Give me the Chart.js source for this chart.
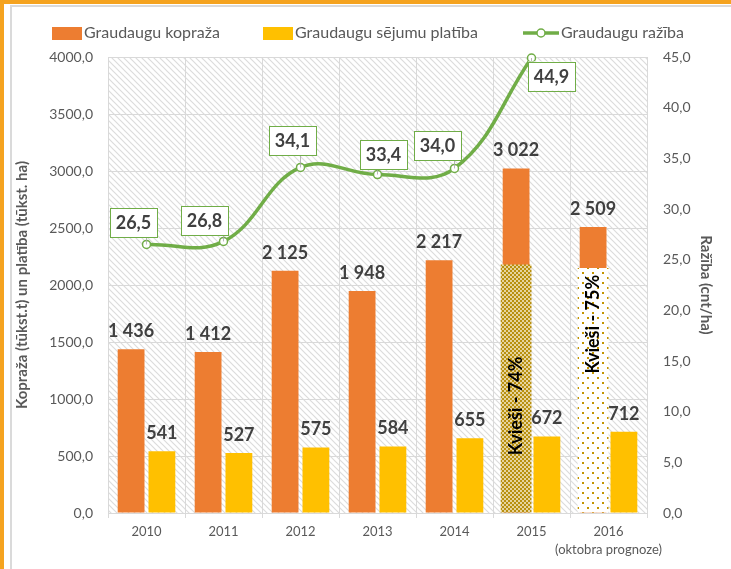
<!DOCTYPE html>
<html>
<head>
<meta charset="utf-8">
<script src="https://cdn.jsdelivr.net/npm/chart.js@4.4.0/dist/chart.umd.min.js"></script>
<style>
  html, body { margin: 0; padding: 0; background: #fff; }
  .edge { position: absolute; background: #F5A31F; }
  .inner { position: absolute; background: #DADADA; }
  #wrap { position: absolute; left: 0; top: 0; width: 731px; height: 569px; }
</style>
</head>
<body>
<div class="edge" style="left:0;top:0;width:4px;height:569px"></div>
<div class="edge" style="left:0;top:0;width:731px;height:4px"></div>
<div class="inner" style="left:10px;top:5px;width:2px;height:564px"></div>
<div class="inner" style="left:10px;top:5px;width:721px;height:2px"></div>
<div id="wrap"><canvas id="myChart" width="731" height="569"></canvas></div>
<script>
// data
var years = ['2010', '2011', '2012', '2013', '2014', '2015', ['2016', '(oktobra prognoze)']];
var kopraza = [1436, 1412, 2125, 1948, 2217, 3022, 2509];
var platiba = [541, 527, 575, 584, 655, 672, 712];
var raziba = [26.5, 26.8, 34.1, 33.4, 34.0, 44.9, null];
var kviesi = [null, null, null, null, null, 2180, 2150];
var kviesiText = [null, null, null, null, null, 'Kvieši - 74%', 'Kvieši - 75%'];

// label placement (style only)
var razibaBoxShift = [[-13, -22], [-19, -21], [-8, -27], [6, -20], [-17, -23], [20, 18]];
var kviesiTextAt = [0, 0, 0, 0, 0, 0.43, 0.77];

var FONT = 'Lato';
var DARK = '#404040';
var GREY = '#595959';

var canvas = document.getElementById('myChart');
var ctx = canvas.getContext('2d');

function tile(w, h, draw) {
    var c = document.createElement('canvas');
    c.width = w; c.height = h;
    draw(c.getContext('2d'), w, h);
    return ctx.createPattern(c, 'repeat');
}

var hatch = tile(6, 6, function(g, s) {
    g.fillStyle = '#fff';
    g.fillRect(0, 0, s, s);
    g.strokeStyle = '#DCDCDC';
    g.lineWidth = 1.2;
    for (var k = -1; k <= 1; k++) {
        g.beginPath();
        g.moveTo(k * s - 1, -1);
        g.lineTo(k * s + s + 1, s + 1);
        g.stroke();
    }
});
var checker = tile(4, 4, function(g) {
    g.fillStyle = '#fff';
    g.fillRect(0, 0, 4, 4);
    g.fillStyle = '#B8900F';
    g.fillRect(0, 0, 2, 2);
    g.fillRect(2, 2, 2, 2);
    g.fillStyle = 'rgba(200,160,40,0.45)';
    g.fillRect(2, 0, 2, 2);
    g.fillRect(0, 2, 2, 2);
});
var dots = tile(10, 10, function(g) {
    g.fillStyle = '#fff';
    g.fillRect(0, 0, 10, 10);
    g.fillStyle = '#C39400';
    g.fillRect(2, 2, 2, 2);
    g.fillRect(7, 7, 2, 2);
});

function comma(v) { return Number(v).toFixed(1).replace('.', ','); }
function spaced(v) { return String(v).replace(/\B(?=(\d{3})+(?!\d))/g, ' '); }

var plotBg = {
    id: 'plotBg',
    beforeDraw: function(chart) {
        var a = chart.chartArea;
        chart.ctx.save();
        chart.ctx.fillStyle = hatch;
        chart.ctx.fillRect(a.left, a.top, a.right - a.left, a.bottom - a.top);
        chart.ctx.restore();
    }
};

var labels = {
    id: 'labels',
    afterDatasetsDraw: function(chart) {
        var c = chart.ctx;
        c.save();
        c.textAlign = 'center';
        c.textBaseline = 'middle';

        // value labels over the bars
        c.font = 'bold 18px ' + FONT;
        c.fillStyle = DARK;
        [2, 3].forEach(function(di) {
            var data = chart.data.datasets[di].data;
            chart.getDatasetMeta(di).data.forEach(function(el, i) {
                c.fillText(spaced(data[i]), el.x, el.y - 18);
            });
        });

        // wheat share, written upwards
        c.font = 'bold 18px ' + FONT;
        c.fillStyle = '#000';
        chart.getDatasetMeta(1).data.forEach(function(el, i) {
            if (!kviesiText[i]) return;
            var y = el.base - (el.base - el.y) * kviesiTextAt[i];
            c.save();
            c.translate(el.x, y);
            c.rotate(-Math.PI / 2);
            c.fillText(kviesiText[i], 0, 0);
            c.restore();
        });

        // yield labels in boxes
        c.font = 'bold 18px ' + FONT;
        chart.getDatasetMeta(0).data.forEach(function(el, i) {
            if (raziba[i] === null) return;
            var w = 47, h = 29;
            var cx = el.x + razibaBoxShift[i][0], cy = el.y + razibaBoxShift[i][1];
            var bx = cx - w / 2, by = cy - h / 2;
            var nx = Math.max(bx, Math.min(el.x, bx + w));
            var ny = Math.max(by, Math.min(el.y, by + h));
            c.strokeStyle = '#A6A6A6';
            c.lineWidth = 0.8;
            c.beginPath();
            c.moveTo(nx, ny);
            c.lineTo(el.x, el.y);
            c.stroke();
            c.fillStyle = '#fff';
            c.fillRect(bx, by, w, h);
            c.strokeStyle = '#70AD47';
            c.lineWidth = 1;
            c.strokeRect(Math.round(bx) + 0.5, Math.round(by) + 0.5, w, h);
            c.fillStyle = DARK;
            c.fillText(comma(raziba[i]), cx, cy + 1);
        });
        c.restore();
    },
    afterDraw: function(chart) {
        // legend row at the top
        var c = chart.ctx;
        c.save();
        c.font = '16px ' + FONT;
        c.textBaseline = 'middle';
        c.textAlign = 'left';
        var ly = 33;
        c.fillStyle = '#ED7D31';
        c.fillRect(52, 27, 30, 13);
        c.fillStyle = GREY;
        c.fillText('Graudaugu kopraža', 84, ly);
        c.fillStyle = '#FFC000';
        c.fillRect(263, 27, 30, 13);
        c.fillStyle = GREY;
        c.fillText('Graudaugu sējumu platība', 295, ly);
        c.strokeStyle = '#70AD47';
        c.lineWidth = 3.5;
        c.beginPath();
        c.moveTo(523, ly);
        c.lineTo(559, ly);
        c.stroke();
        c.beginPath();
        c.arc(541, ly, 4, 0, Math.PI * 2);
        c.fillStyle = '#fff';
        c.fill();
        c.lineWidth = 1.5;
        c.stroke();
        c.fillStyle = GREY;
        c.fillText('Graudaugu ražība', 561, ly);
        c.restore();
    }
};

var chart = new Chart(ctx, {
    type: 'bar',
    data: {
        labels: years,
        datasets: [{
            type: 'line',
            label: 'Graudaugu ražība',
            data: raziba,
            yAxisID: 'y1',
            order: 0,
            borderColor: '#70AD47',
            borderWidth: 3.5,
            tension: 0.4,
            pointRadius: 4,
            pointBackgroundColor: '#fff',
            pointBorderColor: '#70AD47',
            pointBorderWidth: 1.5,
            clip: false
        }, {
            label: 'Kvieši',
            data: kviesi,
            stack: 'k',
            order: 1,
            backgroundColor: [null, null, null, null, null, checker, dots],
            barPercentage: 1.0,
            categoryPercentage: 0.8
        }, {
            label: 'Graudaugu kopraža',
            data: kopraza,
            stack: 'k',
            order: 2,
            backgroundColor: '#ED7D31',
            barPercentage: 0.87,
            categoryPercentage: 0.8
        }, {
            label: 'Graudaugu sējumu platība',
            data: platiba,
            stack: 'p',
            order: 2,
            backgroundColor: '#FFC000',
            barPercentage: 0.87,
            categoryPercentage: 0.8
        }]
    },
    options: {
        responsive: false,
        animation: false,
        layout: { padding: { top: 57, left: 0, right: 0, bottom: 0 } },
        plugins: {
            legend: { display: false },
            title: { display: false },
            tooltip: { enabled: false }
        },
        scales: {
            x: {
                grid: { offset: true, color: '#D9D9D9', tickLength: 5, tickColor: '#D9D9D9' },
                border: { color: '#D9D9D9' },
                ticks: { color: GREY, font: { family: FONT, size: 13, lineHeight: 1.45 }, padding: 4, maxRotation: 0, autoSkip: false },
                afterFit: function(s) { s.height = 56; }
            },
            y: {
                stacked: false,
                min: 0,
                max: 4000,
                ticks: { stepSize: 500, color: GREY, font: { family: FONT, size: 14 }, padding: 15, callback: comma },
                grid: { color: '#D9D9D9', drawTicks: false },
                border: { display: false },
                title: {
                    display: true,
                    text: 'Kopraža (tūkst.t) un platība (tūkst. ha)',
                    color: GREY,
                    font: { family: FONT, size: 15, weight: 'bold' },
                    padding: { top: 13, bottom: 0 }
                },
                afterFit: function(s) { s.width = 108; }
            },
            y1: {
                position: 'right',
                min: 0,
                max: 45,
                ticks: { stepSize: 5, color: GREY, font: { family: FONT, size: 14 }, padding: 16, callback: comma },
                grid: { display: false, drawTicks: false },
                border: { display: false },
                title: {
                    display: true,
                    text: 'Ražība (cnt/ha)',
                    color: GREY,
                    font: { family: FONT, size: 15, weight: 'bold' },
                    padding: { top: 16, bottom: 0 }
                },
                afterFit: function(s) { s.width = 84; }
            }
        }
    },
    plugins: [plotBg, labels]
});
</script>
</body>
</html>
